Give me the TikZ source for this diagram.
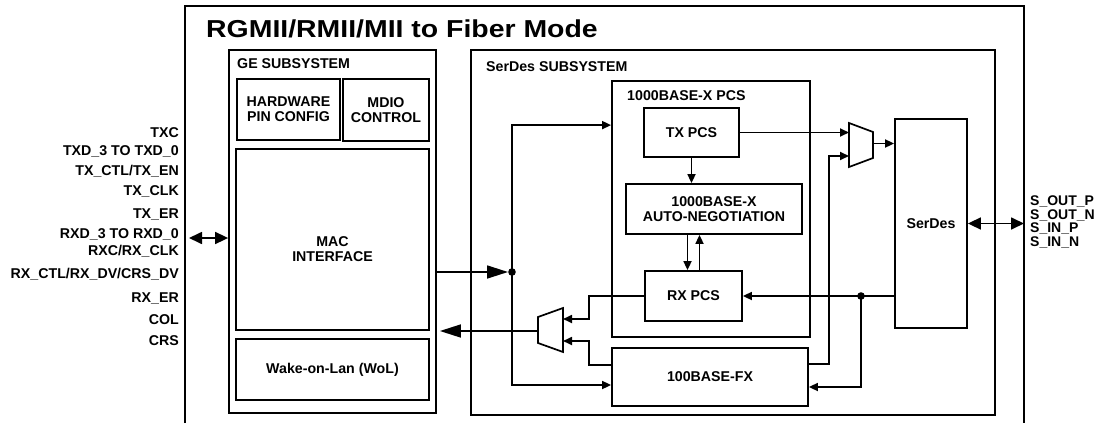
\documentclass[tikz,border=0pt]{standalone}
\usepackage{fontspec}
\usepackage{graphicx}
\setmainfont{Liberation Sans}
\usetikzlibrary{positioning,arrows.meta,calc}
\newcommand{\lblfont}{\fontsize{14.2}{15}\selectfont\bfseries}
\newcommand{\ttlfont}{\fontsize{24.5}{28}\selectfont\bfseries}
\tikzset{
  blk/.style={draw, line width=1.8pt, align=center, font=\lblfont, inner sep=0pt},
  sublbl/.style={anchor=base west, font=\lblfont, inner sep=0pt},
  pinlbl/.style={anchor=base east, font=\lblfont, inner sep=0pt},
  sig/.style={-{Triangle[length=9pt,width=8pt]}, line width=1.7pt},
  bigsig/.style={-{Triangle[length=21pt,width=13pt]}, line width=1.7pt},
  bidir/.style={{Triangle[length=13pt,width=12pt]}-{Triangle[length=13pt,width=12pt]}, line width=1.7pt},
  mux/.style={draw, line width=1.7pt, line join=miter}
}

\begin{document}
\begin{tikzpicture}[x=1pt, y=-1pt]
\useasboundingbox (0,0) rectangle (1102,423);

% outer frame and title
\draw[line width=1.6pt] (185,423) |- (1024,6) -- (1024,423);
\node[anchor=base west, font=\ttlfont, inner sep=0pt] (title) at (206,37) {\scalebox{1.16}[1]{RGMII/RMII/MII to Fiber Mode}};

% GE subsystem
\node[blk, minimum width=207pt, minimum height=363pt] (gesub) at (332.5,231.5) {};
\node[sublbl] (gelbl) at (237,68.5) {GE SUBSYSTEM};
\node[blk, minimum width=103pt, minimum height=61pt] (hwcfg) at (288.5,109.5) {HARDWARE\\PIN CONFIG};
\node[blk, minimum width=86pt, minimum height=62pt] (mdio) at (386,110) {MDIO\\CONTROL};
\node[blk, minimum width=193pt, minimum height=181pt] (mac) at (332.5,239.5) {};
\node[font=\lblfont, align=center, inner sep=0pt] (mactxt) at (332.5,249) {MAC\\INTERFACE};
\node[blk, minimum width=193pt, minimum height=61pt] (wol) at (332.5,369.5) {Wake-on-Lan (WoL)};

% SerDes subsystem
\node[blk, minimum width=524pt, minimum height=365pt] (sdsub) at (733,232.5) {};
\node[sublbl] (sdlbl) at (486,71.5) {SerDes SUBSYSTEM};
\node[blk, minimum width=198pt, minimum height=256pt] (pcs) at (711,209) {};
\node[sublbl] (pcslbl) at (627,100) {1000BASE-X PCS};
\node[blk, minimum width=95pt, minimum height=49pt] (txpcs) at (691.5,132.5) {TX PCS};
\node[blk, minimum width=176pt, minimum height=50pt] (aneg) at (714,209) {1000BASE-X\\AUTO-NEGOTIATION};
\node[blk, minimum width=97pt, minimum height=50pt] (rxpcs) at (693.5,296) {RX PCS};
\node[blk, minimum width=196pt, minimum height=58pt] (fx) at (710,377) {100BASE-FX};
\node[blk, minimum width=72pt, minimum height=209pt] (serdes) at (931,223.5) {SerDes};

% muxes
\draw[mux] (849,123) -- (873,132) -- (873,158) -- (849,167) -- cycle;
\coordinate (txmuxA) at (849,133);
\coordinate (txmuxB) at (849,156);
\coordinate (txmuxO) at (873,143.5);
\draw[mux] (538,317) -- (563,308) -- (563,352) -- (538,343) -- cycle;
\coordinate (rxmuxA) at (563,319);
\coordinate (rxmuxB) at (563,341);
\coordinate (rxmuxO) at (538,331);

% junctions and pins
\coordinate (jtx) at (512,272);
\coordinate (jrx) at (861,296);
\coordinate (rgpin) at (189,238);
\coordinate (spin) at (1024,223.5);

% pin labels
\foreach \yy/\name [count=\i] in {137.5/TXC, 155/{TXD\_3 TO TXD\_0~}, 175/{TX\_CTL/TX\_EN},
    195.7/{TX\_CLK}, 218/{TX\_ER}, 238/{RXD\_3 TO RXD\_0}, 255.7/{RXC/RX\_CLK},
    278/{RX\_CTL/RX\_DV/CRS\_DV}, 302/{RX\_ER}, 324/COL, 345/CRS}
  \node[pinlbl] (pin\i) at (179,\yy) {\name};
\node[anchor=west, align=left, font=\fontsize{14}{13.5}\selectfont\bfseries, inner sep=0pt] (spins) at (1030,222) {S\_OUT\_P\\S\_OUT\_N\\S\_IN\_P\\S\_IN\_N};

% transmit side
\draw[bidir] (rgpin) -- (rgpin -| gesub.west);
\draw[bigsig, shorten >=4pt] (gesub.east |- jtx) -- (jtx);
\fill (jtx) circle (3.8pt);
\draw[sig] (jtx) |- ([yshift=-45pt]pcs.north west);
\draw[sig] (jtx) |- ([yshift=-8pt]fx.west);
\draw[sig] (txpcs.east) -- (txpcs.east -| txmuxA);
\draw[sig] ([yshift=13pt]fx.east) -| ([xshift=-20pt]txmuxB) -- (txmuxB);
\draw[sig] (txmuxO) -- (txmuxO -| serdes.west);
\draw[sig] (txpcs.south) -- (txpcs.south |- aneg.north);
\draw[sig] ([xshift=-6pt]rxpcs.north |- aneg.south) -- ([xshift=-6pt]rxpcs.north);
\draw[sig] ([xshift=6pt]rxpcs.north) -- ([xshift=6pt]rxpcs.north |- aneg.south);

% receive side
\draw[sig] (jrx -| serdes.west) -- (rxpcs.east);
\fill (jrx) circle (3.8pt);
\draw[sig] (jrx) |- ([yshift=-10pt]fx.east);
\draw[sig] (rxpcs.west) -| ([xshift=26pt]rxmuxA) -- (rxmuxA);
\draw[sig] ([yshift=12pt]fx.west) -| ([xshift=26pt]rxmuxB) -- (rxmuxB);
\draw[bigsig, shorten >=3pt] (rxmuxO) -- (rxmuxO -| gesub.east);
\draw[bidir] (serdes.east) -- (spin);
\end{tikzpicture}
\end{document}
